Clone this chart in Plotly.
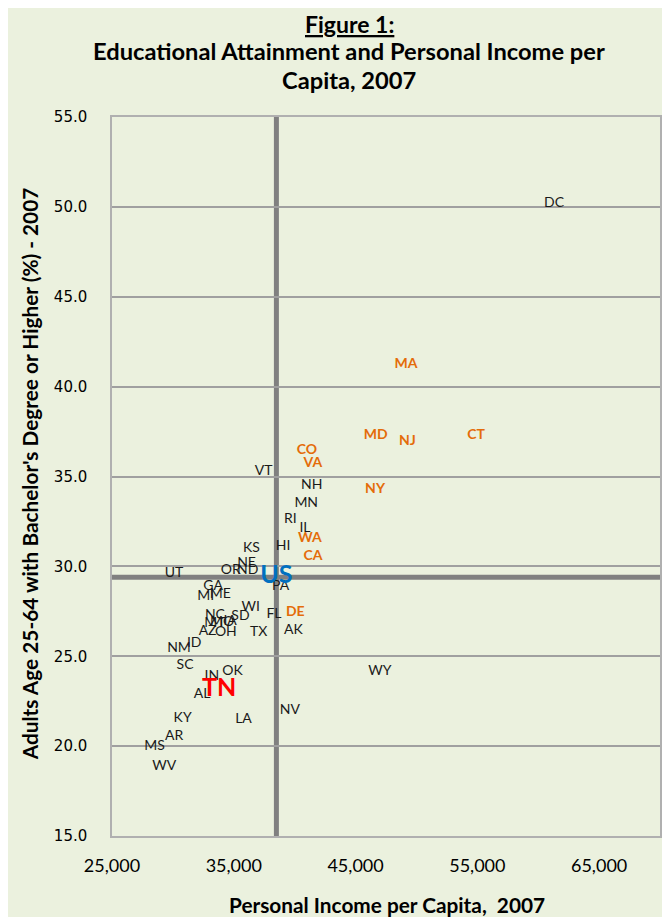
import plotly.graph_objects as go

# ---------------- data ----------------
other_states = ["DC", "VT", "NH", "MN", "RI", "IL", "HI", "KS", "NE", "ND", "OR", "PA",
                "UT", "GA", "MI", "ME", "WI", "FL", "NC", "SD", "MT", "MO", "IA", "AK",
                "TX", "OH", "AZ", "ID", "NM", "SC", "IN", "OK", "AL", "KY", "LA", "NV",
                "AR", "MS", "WV", "WY"]
other_income = [61300, 37450, 41400, 40950, 39650, 40850, 39050, 36450, 36050, 36150, 34750, 38850,
                30100, 33300, 32700, 33900, 36400, 38300, 33450, 35550, 33450, 34050, 34700, 39900,
                37050, 34350, 32850, 31750, 30500, 31000, 33200, 34900, 32400, 30800, 35800, 39600,
                30100, 28500, 29300, 47000]
other_ba = [50.2, 35.3, 34.5, 33.5, 32.6, 32.1, 31.1, 31.0, 30.15, 29.75, 29.75, 28.9,
            29.6, 28.9, 28.3, 28.45, 27.7, 27.3, 27.25, 27.2, 26.8, 26.9, 26.95, 26.45,
            26.3, 26.3, 26.35, 25.7, 25.45, 24.5, 23.85, 24.15, 22.9, 21.55, 21.5, 22.0,
            20.55, 20.0, 18.85, 24.15]

top_states = ["MA", "MD", "NJ", "CT", "CO", "VA", "NY", "WA", "CA", "DE"]
top_income = [49150, 46650, 49250, 54900, 41000, 41500, 46600, 41250, 41500, 40050]
top_ba = [41.25, 37.3, 36.95, 37.3, 36.45, 35.75, 34.3, 31.55, 30.55, 27.45]

us_label = "US"
us_income = 38500
us_ba = 29.4

tn_label = "TN"
tn_income = 33800
tn_ba = 23.15

x_ticks = [25000, 35000, 45000, 55000, 65000]
y_ticks = [15, 20, 25, 30, 35, 40, 45, 50, 55]

title_lines = ["<u>Figure 1:</u>",
               "Educational Attainment and Personal Income per",
               "Capita, 2007"]
x_title = "Personal Income per Capita,  2007"
y_title = "Adults Age 25-64 with Bachelor's Degree or Higher (%) - 2007"

# ---------------- layout geometry ----------------
OFF = 8                      # page body margin
W, H = 670 - OFF, 917 - OFF
L, T = 112 - OFF, 117 - OFF
R = W - (662 - OFF)
B = H - (836 - OFF)
PW, PH = W - L - R, H - T - B
BG = "#EBF1DE"
FONT = "Lato"


def px(x):
    return (x - OFF - L) / PW


def py(y):
    return (H - B - (y - OFF)) / PH


fig = go.Figure()

fig.add_trace(go.Scatter(
    x=other_income, y=other_ba, text=other_states, mode="text",
    textposition="middle center",
    textfont=dict(family=FONT, size=14, color="#1a1a1a"),
    hoverinfo="text", showlegend=False))

fig.add_trace(go.Scatter(
    x=top_income, y=top_ba, text=[f"<b>{s}</b>" for s in top_states], mode="text",
    textposition="middle center",
    textfont=dict(family=FONT, size=14, color="#E46C0A"),
    hoverinfo="text", showlegend=False))

fig.add_trace(go.Scatter(
    x=[us_income], y=[us_ba], text=[f"<b>{us_label}</b>"], mode="text",
    textposition="middle center",
    textfont=dict(family=FONT, size=25, color="#0070C0"),
    hoverinfo="text", showlegend=False))

fig.add_trace(go.Scatter(
    x=[tn_income], y=[tn_ba], text=[f"<b>{tn_label}</b>"], mode="text",
    textposition="middle center",
    textfont=dict(family=FONT, size=25, color="#FF0000"),
    hoverinfo="text", showlegend=False))

# US reference lines
fig.add_shape(type="line", xref="x", yref="paper", x0=us_income, x1=us_income, y0=0, y1=1,
              line=dict(color="#808080", width=5), layer="below")
fig.add_shape(type="line", xref="paper", yref="y", x0=0, x1=1, y0=us_ba, y1=us_ba,
              line=dict(color="#808080", width=5), layer="below")

annotations = []
annotations.append(dict(text=f"<b>{title_lines[0]}</b>", x=px(350), y=py(OFF), xref="paper",
                        yref="paper", xanchor="center", yanchor="top", showarrow=False,
                        font=dict(family=FONT, size=23, color="#000000")))
for txt, yy in zip(title_lines[1:], [51, 80]):
    annotations.append(dict(text=f"<b>{txt}</b>", x=px(350), y=py(yy), xref="paper", yref="paper",
                            xanchor="center", yanchor="middle", showarrow=False,
                            font=dict(family=FONT, size=23.7, color="#000000")))
annotations.append(dict(text=f"<b>{x_title}</b>", x=px(388), y=py(904), xref="paper", yref="paper",
                        xanchor="center", yanchor="middle", showarrow=False,
                        font=dict(family=FONT, size=20.8, color="#000000")))
annotations.append(dict(text=f"<b>{y_title}</b>", x=px(29), y=py(474), xref="paper", yref="paper",
                        xanchor="center", yanchor="middle", showarrow=False, textangle=-90,
                        font=dict(family=FONT, size=20.8, color="#000000")))

fig.update_layout(
    width=W, height=H,
    margin=dict(l=L, r=R, t=T, b=B),
    paper_bgcolor=BG, plot_bgcolor=BG,
    annotations=annotations,
    showlegend=False,
)

fig.update_xaxes(range=[25000, 70000], tickvals=x_ticks,
                 ticktext=[f"{v:,}" for v in x_ticks],
                 showgrid=False, zeroline=False,
                 showline=True, linecolor="#B0B0B0", linewidth=1.5, mirror=True,
                 ticks="", ticklabelstandoff=13,
                 tickfont=dict(family=FONT, size=18, color="#000000"))
fig.update_yaxes(range=[15, 55], tickvals=y_ticks,
                 ticktext=[f"{v:.1f}" for v in y_ticks],
                 showgrid=True, gridcolor="#A0A0A0", gridwidth=1.5, zeroline=False,
                 showline=True, linecolor="#B0B0B0", linewidth=1.5, mirror=True,
                 ticks="", ticklabelstandoff=20,
                 tickfont=dict(family="DejaVu Sans", size=15, color="#000000"))

fig.write_html("out.html")
